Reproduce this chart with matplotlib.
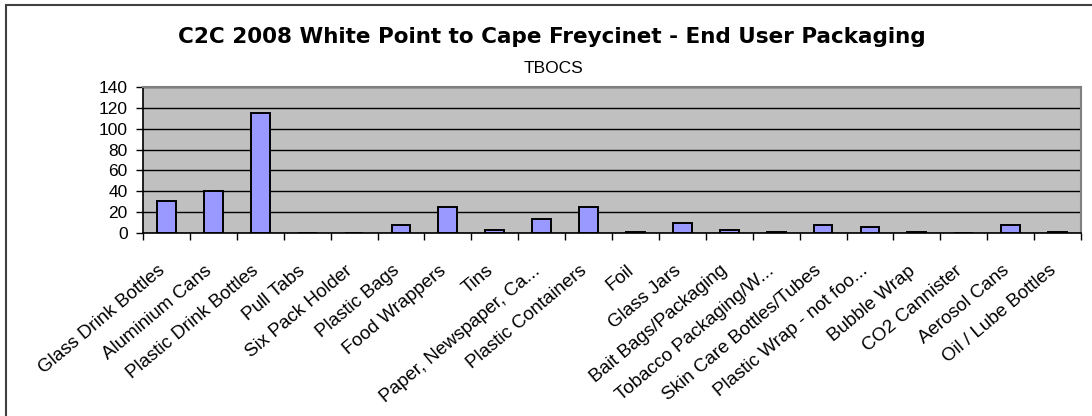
import matplotlib.pyplot as plt
import numpy as np
from matplotlib.patches import Rectangle

plt.rcParams['font.family'] = ['Liberation Sans', 'DejaVu Sans']

categories = ['Glass Drink Bottles', 'Aluminium Cans', 'Plastic Drink Bottles', 'Pull Tabs',
              'Six Pack Holder', 'Plastic Bags', 'Food Wrappers', 'Tins',
              'Paper, Newspaper, Ca...', 'Plastic Containers', 'Foil', 'Glass Jars',
              'Bait Bags/Packaging', 'Tobacco Packaging/W...', 'Skin Care Bottles/Tubes',
              'Plastic Wrap - not foo...', 'Bubble Wrap', 'CO2 Cannister', 'Aerosol Cans',
              'Oil / Lube Bottles']
counts = [31, 40, 115, 0, 0, 8, 25, 3, 13, 25, 1, 10, 3, 1, 8, 6, 1, 0, 8, 1]
yticks = [0, 20, 40, 60, 80, 100, 120, 140]

fig = plt.figure(figsize=(10.92, 4.16), dpi=100)
fig.patches.append(Rectangle((6 / 1092, -0.1), 1.2, 1 - 5 / 416 + 0.1,
                             transform=fig.transFigure, fill=False,
                             edgecolor='#404040', linewidth=1.5))

ax = fig.add_axes([143 / 1092, 1 - 233 / 416, (1081 - 143) / 1092, (233 - 87) / 416])
ax.set_facecolor('#C0C0C0')
x = np.arange(len(categories))
ax.bar(x, counts, width=0.4, color='#9999FF', edgecolor='black', linewidth=1.4, zorder=3)

ax.set_xlim(-0.5, len(categories) - 0.5)
ax.set_ylim(0, 140)
ax.set_yticks(yticks)
ax.set_yticklabels([str(v) for v in yticks], fontsize=12.5)
ax.yaxis.grid(True, color='black', linewidth=1)
ax.set_axisbelow(True)

# ticks at category boundaries, labels near centres (nudged left like the original)
ax.set_xticks(np.arange(len(categories) + 1) - 0.5)
ax.set_xticklabels([])
ax.set_xticks(x - 0.2, minor=True)
ax.set_xticklabels(categories, minor=True, rotation=40, ha='right',
                   rotation_mode='anchor', fontsize=13.5)
ax.tick_params(axis='x', which='minor', length=0, pad=21)
ax.tick_params(axis='x', which='major', length=5, width=1, direction='out')
ax.tick_params(axis='y', length=5, width=1, direction='out', pad=6)

for s in ['top', 'right']:
    ax.spines[s].set_color('#808080')
    ax.spines[s].set_linewidth(1.5)
for s in ['left', 'bottom']:
    ax.spines[s].set_color('black')
    ax.spines[s].set_linewidth(1.2)

fig.text(552 / 1092, 1 - 43 / 416, 'C2C 2008 White Point to Cape Freycinet - End User Packaging',
         ha='center', va='baseline', fontsize=15.5, fontweight='bold', family='DejaVu Sans')
fig.text(553 / 1092, 1 - 73 / 416, 'TBOCS', ha='center', va='baseline', fontsize=12.5)

fig.savefig('out.png', dpi=100)
